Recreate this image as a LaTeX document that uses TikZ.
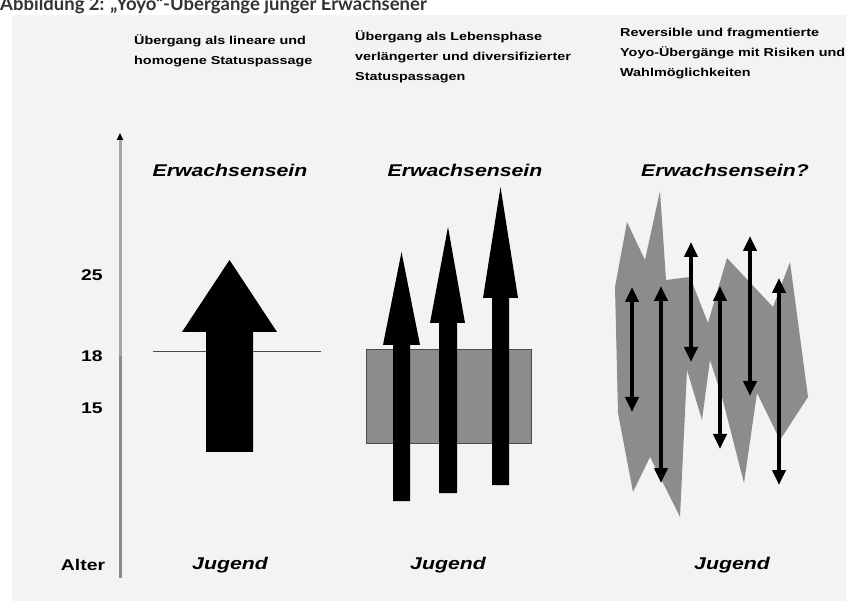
\documentclass[tikz,border=0pt]{standalone}
\usepackage{fontspec}
\setmainfont{Liberation Sans}
\newfontfamily\hdrfont[FakeStretch=1.25]{Liberation Sans}
\newfontfamily\titlefont{Lato}
\usetikzlibrary{arrows.meta}
\definecolor{panel}{HTML}{F3F3F3}
\definecolor{midgray}{HTML}{8C8C8C}
\definecolor{axisup}{HTML}{A6A6A6}
\definecolor{axislow}{HTML}{8A8A8A}
\definecolor{titlegray}{HTML}{333333}
\begin{document}
\begin{tikzpicture}[x=1pt,y=-1pt,
  hdr/.style={anchor=north west, align=left, inner sep=0pt,
    font=\hdrfont\bfseries\fontsize{11.5}{20}\selectfont},
  big/.style={inner sep=0pt, font=\hdrfont\bfseries\itshape\fontsize{17}{20}\selectfont},
  ticklab/.style={inner sep=0pt, font=\hdrfont\bfseries\fontsize{15.5}{17}\selectfont},
  blockarrow/.style={fill=black, draw=none},
  band/.style={fill=midgray, draw=black!70, line width=0.8pt},
  jag/.style={fill=midgray, draw=none},
  yoyo/.style={line width=3.8pt, {Triangle[width=13pt,length=15pt]}-{Triangle[width=13pt,length=15pt]}},
]
\useasboundingbox (0,0) rectangle (857,601);
\clip (0,0) rectangle (857,601);
\fill[white] (0,0) rectangle (857,601);
\fill[panel] (12,15) rectangle (846,601);

% title (cut off at the top, as in the reference)
\node[anchor=base west, inner sep=0pt, text=titlegray, font=\titlefont\bfseries\fontsize{18.5}{20}\selectfont] (title) at (0,10.5) {Abbildung 2: „Yoyo“-Übergänge junger Erwachsener};

% headers
\node[hdr] (h1) at (134,34) {Übergang als lineare und\\homogene Statuspassage};
\node[hdr] (h2) at (355,30) {Übergang als Lebensphase\\verlängerter und diversifizierter\\Statuspassagen};
\node[hdr] (h3) at (620,28) {Reversible und fragmentierte\\Yoyo-Übergänge mit Risiken und\\Wahlmöglichkeiten};

% axis
\coordinate (axbot) at (120,578);
\coordinate (axmid) at (120,356);
\coordinate (axtop) at (120,133);
\draw[axislow, line width=3pt] (axbot) -- (axmid);
\draw[axisup, line width=3pt, -{Triangle[width=6pt,length=7pt,color=black]}] (axmid) -- (axtop);
\node[ticklab] (t25) at (92,275) {25};
\node[ticklab] (t18) at (92,356) {18};
\node[ticklab] (t15) at (92,408) {15};
\node[ticklab] (alter) at (83,565) {Alter};

% top / bottom labels
\node[big] (e1) at (230,170) {Erwachsensein};
\node[big] (e2) at (465,170) {Erwachsensein};
\node[big] (e3) at (725,170) {Erwachsensein?};
\node[big] (j1) at (230,565) {Jugend};
\node[big] (j2) at (448,565) {Jugend};
\node[big] (j3) at (732,565) {Jugend};

% column 1
\draw[black!70, line width=1pt] (153,352) -- (321,352);
\fill[blockarrow] (206,452) -- (253,452) -- (253,332) -- (277,332) -- (229.5,260) -- (182,332) -- (206,332) -- cycle;

% column 2
\draw[band] (366,349) rectangle (531,443);
\fill[blockarrow] (393,501) -- (410,501) -- (410,345) -- (420,345) -- (401.5,252) -- (383,345) -- (393,345) -- cycle;
\fill[blockarrow] (439,493) -- (457,493) -- (457,323) -- (465,323) -- (448,227) -- (430,323) -- (439,323) -- cycle;
\fill[blockarrow] (492,485) -- (509,485) -- (509,298) -- (518,298) -- (500.5,187) -- (483,298) -- (492,298) -- cycle;

% column 3
\fill[jag] (615,287) -- (627,222) -- (645,260) -- (660,191) -- (666,280) -- (690,277)
  -- (708,323) -- (727,258) -- (773,307) -- (790,262) -- (808,397) -- (780,440)
  -- (757,393) -- (744,483) -- (722,397) -- (710,360) -- (702,420) -- (687,370)
  -- (680,517) -- (650,457) -- (633,492) -- (618,413) -- cycle;
\coordinate (y1t) at (632,287); \coordinate (y1b) at (632,412);
\coordinate (y2t) at (661,286); \coordinate (y2b) at (661,483);
\coordinate (y3t) at (691,242); \coordinate (y3b) at (691,362);
\coordinate (y4t) at (720,286); \coordinate (y4b) at (720,449);
\coordinate (y5t) at (750,236); \coordinate (y5b) at (750,396);
\coordinate (y6t) at (779,278); \coordinate (y6b) at (779,485);
\foreach \i in {1,...,6} { \draw[yoyo] (y\i t) -- (y\i b); }
\end{tikzpicture}
\end{document}
